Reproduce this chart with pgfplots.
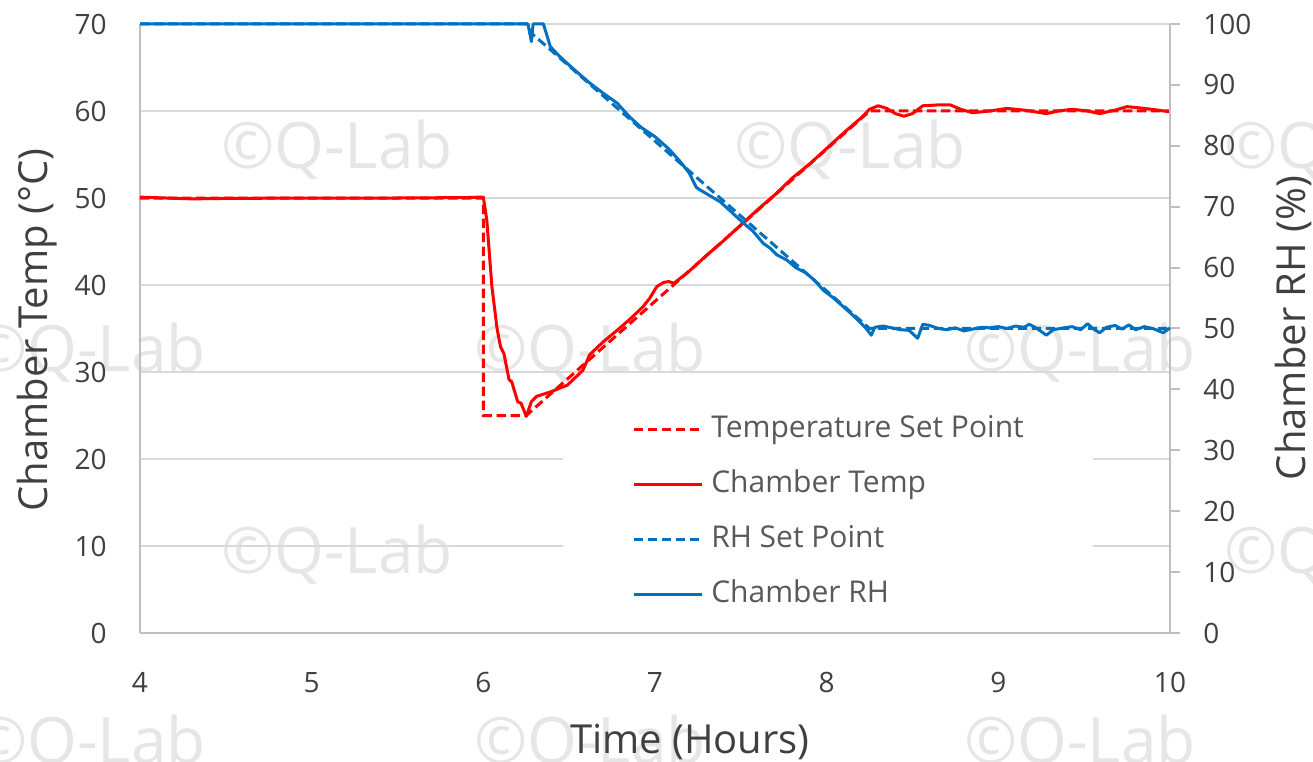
\documentclass[border=0pt]{standalone}
\usepackage{pgfplots}
\pgfplotsset{compat=1.18}
\usepackage{fontspec}
\setmainfont{Open Sans}
\definecolor{tred}{HTML}{FF0000}
\definecolor{tblue}{HTML}{0070C0}
\definecolor{axisgray}{HTML}{BFBFBF}
\definecolor{gridgray}{HTML}{D9D9D9}
\definecolor{ticktext}{HTML}{404040}
\definecolor{legtext}{HTML}{595959}
\definecolor{wmgray}{HTML}{E6E6E6}

\pgfplotstableread{
x y
4 50
6.0 50
6.0 25
6.25 25
8.25 60
10 60
}\tempsp

\pgfplotstableread{
x y
4 50.1
4.3 49.9
4.5 49.95
5 50
5.5 50
5.9 50.05
5.98 50.1
6.0 50.1
6.02 47.5
6.05 39.8
6.08 35
6.10 32.9
6.12 32.1
6.15 29.1
6.165 28.9
6.20 26.6
6.22 26.4
6.25 24.9
6.28 26.6
6.31 27.2
6.39 27.7
6.49 28.5
6.58 30.2
6.62 32.0
6.70 33.5
6.78 34.8
6.85 36.0
6.93 37.5
6.97 38.5
7.01 39.8
7.05 40.3
7.08 40.4
7.11 40.2
7.2 41.6
7.3 43.4
7.4 45.1
7.5 46.9
7.6 48.7
7.7 50.4
7.8 52.3
7.9 53.9
8.0 55.7
8.1 57.5
8.2 59.2
8.25 60.2
8.30 60.6
8.35 60.3
8.40 59.7
8.45 59.4
8.50 59.7
8.56 60.6
8.65 60.7
8.72 60.7
8.78 60.2
8.85 59.8
8.95 60.0
9.05 60.3
9.15 60.1
9.28 59.7
9.35 60.0
9.43 60.2
9.52 60.0
9.59 59.7
9.68 60.1
9.75 60.5
9.85 60.3
9.93 60.1
10 59.9
}\tempdata

\pgfplotstableread{
x y
4 100
6.25 100
6.28 98.5
8.25 50
10 50
}\rhsp

\pgfplotstableread{
x y
4 100
6.26 100
6.28 97.1
6.29 100
6.35 100
6.39 96.3
6.44 94.8
6.49 93.5
6.55 92.0
6.62 90.3
6.70 88.6
6.78 87.0
6.85 84.8
6.92 83.0
7.0 81.5
7.08 79.5
7.15 77.3
7.2 75.5
7.24 73.2
7.26 72.8
7.32 71.8
7.38 70.8
7.45 69.0
7.52 67.2
7.57 66.0
7.63 64.0
7.67 63.2
7.71 62.1
7.77 61.2
7.82 60.0
7.88 59.1
7.93 57.9
7.98 56.3
8.04 55.0
8.10 53.5
8.16 52.0
8.23 50.0
8.26 48.9
8.28 50.2
8.33 50.4
8.38 50.1
8.43 49.8
8.48 49.7
8.53 48.4
8.56 50.7
8.60 50.5
8.65 50.0
8.70 49.8
8.75 50.1
8.80 49.6
8.85 49.9
8.90 50.2
8.95 50.1
9.0 50.3
9.05 50.0
9.10 50.4
9.15 50.2
9.18 50.7
9.22 50.1
9.28 48.9
9.32 49.8
9.38 50.1
9.43 50.3
9.48 49.8
9.52 50.8
9.55 50.0
9.59 49.3
9.63 50.2
9.68 50.5
9.72 49.9
9.76 50.6
9.80 49.8
9.85 50.3
9.90 50.0
9.96 49.3
10 50.1
}\rhdata

\begin{document}
\begin{tikzpicture}
\path[use as bounding box] (-105pt,-96pt) rectangle (879.75pt,474.75pt);
% watermarks
\begin{scope}[every node/.style={text=wmgray, font=\fontsize{48}{48}\selectfont, inner sep=0pt}]
\node at (147.75pt,362.25pt) {©Q-Lab};
\node at (532.5pt,362.25pt) {©Q-Lab};
\node at (900pt,362.25pt) {©Q-Lab};
\node at (-37.5pt,210pt) {©Q-Lab};
\node at (337.5pt,210pt) {©Q-Lab};
\node at (705pt,210pt) {©Q-Lab};
\node at (147.75pt,58.5pt) {©Q-Lab};
\node at (900pt,58.5pt) {©Q-Lab};
\node at (-37.5pt,-84pt) {©Q-Lab};
\node at (337.5pt,-84pt) {©Q-Lab};
\node at (705pt,-84pt) {©Q-Lab};
\end{scope}

\begin{axis}[
  at={(0pt,0pt)}, anchor=south west,
  scale only axis, width=772.5pt, height=456.75pt,
  xmin=4, xmax=10, ymin=0, ymax=70,
  axis x line*=bottom, axis y line*=left,
  axis line style={draw=axisgray, line width=1.5pt},
  xtick={4,5,...,10}, ytick={0,10,...,70},
  major tick length=0pt,
  ymajorgrids, grid style={draw=gridgray, line width=1.5pt},
  /pgf/number format/assume math mode=true,
  ticklabel style={font=\fontsize{21}{25}\selectfont, text=ticktext, inner sep=0pt},
  xticklabel style={anchor=north, yshift=-29.25pt},
  yticklabel style={anchor=east, xshift=-24.75pt},
  clip=false,
]
\addplot[tred, line width=2.25pt, dash pattern=on 7pt off 3.5pt] table {\tempsp};
\addplot[tred, line width=2.25pt, line join=round] table {\tempdata};
\end{axis}

\begin{axis}[
  at={(0pt,0pt)}, anchor=south west,
  scale only axis, width=772.5pt, height=456.75pt,
  xmin=4, xmax=10, ymin=0, ymax=100,
  axis x line=none, axis y line*=right,
  axis line style={draw=axisgray, line width=1.5pt},
  ytick={0,10,...,100},
  major tick length=7.5pt, tick align=outside,
  tick style={draw=axisgray, line width=1.5pt},
  /pgf/number format/assume math mode=true,
  ticklabel style={font=\fontsize{21}{25}\selectfont, text=ticktext, inner sep=0pt},
  yticklabel style={anchor=west, xshift=17.25pt},
  legend style={at={(0.4107,0.3908)}, anchor=north west, draw=none, fill=white,
    inner xsep=51.75pt, inner ysep=15pt, font=\fontsize{22.5}{26}\selectfont, text=legtext,
    row sep=19.25pt, column sep=6pt,
    nodes={inner sep=0pt, text height=17pt, text depth=5pt}},
  legend cell align=left,
  legend image code/.code={\draw[#1] (0pt,0pt) -- (51pt,0pt);},
  clip=false,
]
\addlegendimage{tred, line width=2.25pt, dash pattern=on 7pt off 3.5pt}
\addlegendentry{Temperature Set Point}
\addlegendimage{tred, line width=2.25pt}
\addlegendentry{Chamber Temp}
\addplot[tblue, line width=2.25pt, dash pattern=on 7pt off 3.5pt] table {\rhsp};
\addlegendentry{RH Set Point}
\addplot[tblue, line width=2.25pt, line join=round] table {\rhdata};
\addlegendentry{Chamber RH}
\end{axis}

\node[anchor=base, text=ticktext, font=\fontsize{30}{34}\selectfont, inner sep=0pt] at (412.5pt,-90pt) {Time (Hours)};
\node[anchor=base, rotate=90, text=ticktext, font=\fontsize{30}{34}\selectfont, inner sep=0pt] at (-69pt,227.25pt) {Chamber Temp (°C)};
\node[anchor=base, rotate=90, text=ticktext, font=\fontsize{30}{34}\selectfont, inner sep=0pt] at (873.75pt,228.75pt) {Chamber RH (\%)};
\end{tikzpicture}
\end{document}
